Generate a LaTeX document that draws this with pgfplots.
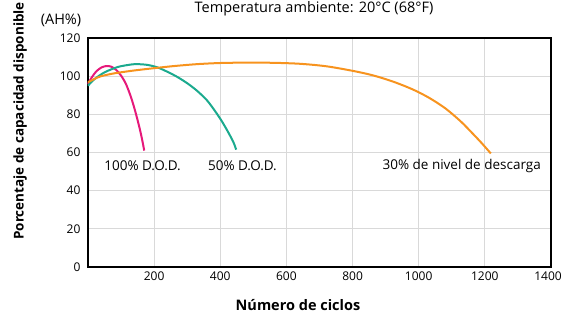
\documentclass[border=0pt]{standalone}
\usepackage{pgfplots}
\pgfplotsset{compat=1.18}
\usepackage{fontspec}
\setmainfont{Open Sans}
\definecolor{cpink}{HTML}{E6197A}
\definecolor{cteal}{HTML}{1BAA8E}
\definecolor{corange}{HTML}{F7931E}
\definecolor{cgrid}{HTML}{D9D9D9}
\begin{document}
\begin{tikzpicture}[x=1pt,y=1pt]
\path[use as bounding box] (-88,-50) rectangle (475,267);
\begin{axis}[
  at={(0,0)}, anchor=south west,
  scale only axis, width=463pt, height=229pt,
  xmin=0, xmax=1400, ymin=0, ymax=120,
  xtick={200,400,...,1200}, ytick={0,20,...,120},
  extra x ticks={1400},
  extra x tick style={grid=none, xticklabel style={xshift=-3pt}},
  grid=major,
  major grid style={cgrid, line width=0.8pt},
  axis line style={black, line width=1.6pt},
  tick style={draw=none},
  ticklabel style={font=\fontsize{12}{14}\selectfont},
  /pgf/number format/assume math mode=true,
  /pgf/number format/1000 sep={},
  xticklabel style={yshift=-1pt},
  yticklabel style={xshift=-4pt},
  clip=false,
]
\addplot[cpink, line width=2pt, smooth] coordinates {
(0,96) (12,99.5) (25,102.5) (40,104.5) (55,105.3) (70,105) (85,103.3) (100,100.3) (115,95.8) (130,89) (143,81.5) (155,73.5) (164,66.5) (170,61)};
\addplot[cteal, line width=2pt, smooth] coordinates {
(0,95) (20,98.5) (50,102) (90,104.8) (130,106.1) (150,106.3) (180,105.9) (210,104.6) (240,102.3) (270,99.6) (300,96.3) (330,92.3) (360,87.3) (385,81.5) (405,76.3) (425,70.3) (440,65.3) (448,61.5)};
\addplot[corange, line width=2pt, smooth] coordinates {
(0,96.8) (20,98.6) (40,100) (80,101.5) (136,102.9) (200,104.2) (260,105.3) (330,106.3) (400,106.9) (480,107.1) (560,107) (640,106.5) (720,105.2) (800,102.8) (860,100.5) (920,97.3) (980,93.2) (1030,88.8) (1080,83.2) (1127,76.3) (1160,70.5) (1190,65) (1218,59.5)};
\node[font=\fontsize{13.5}{15}\selectfont] at (axis cs:165,53) {100\% D.O.D.};
\node[font=\fontsize{13.5}{15}\selectfont] at (axis cs:467,53) {50\% D.O.D.};
\node[font=\fontsize{13.5}{15}\selectfont] at (axis cs:1130,53) {30\% de nivel de descarga};
\end{axis}
\node[font=\fontsize{14.5}{16}\selectfont] at (226,258) {Temperatura ambiente: 20°C (68°F)};
\node[font=\fontsize{14.5}{16}\selectfont] at (-27,247) {(AH\%)};
\node[font=\bfseries\fontsize{13.5}{15}\selectfont, rotate=90] at (-68,146) {Porcentaje de capacidad disponible};
\node[font=\bfseries\fontsize{14.5}{16}\selectfont] at (210,-38) {Número de ciclos};
\end{tikzpicture}
\end{document}
